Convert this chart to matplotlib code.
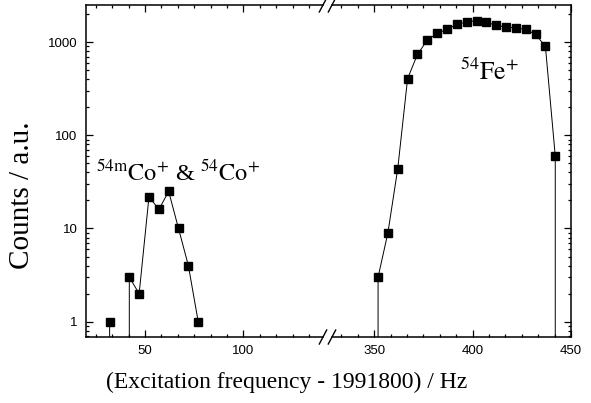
import numpy as np
import matplotlib
matplotlib.use('Agg')
import matplotlib.pyplot as plt
from matplotlib.ticker import MultipleLocator, LogLocator, FixedLocator, FuncFormatter, NullFormatter

plt.rcParams['font.family'] = 'Liberation Sans'
plt.rcParams['mathtext.fontset'] = 'stix'

# Co peaks (left part of the broken axis), zero = no counts
co_freq = [32, 37, 42, 47, 52, 57, 62, 67, 72, 77]
co_counts = [1, 0, 3, 2, 22, 16, 25, 10, 4, 1]

# Fe peak (right part)
fe_freq = [347, 352, 357, 362, 367, 372, 377, 382, 387, 392, 397, 402,
           407, 412, 417, 422, 427, 432, 437, 442, 447]
fe_counts = [0, 3, 9, 44, 406, 737, 1050, 1240, 1370, 1550, 1640, 1700,
             1630, 1510, 1450, 1415, 1370, 1210, 900, 60, 0]

x_left = (20, 140.4)
x_right = (328.6, 450)
y_lim = (0.685, 2500)

fig = plt.figure(figsize=(5.91, 4.03), dpi=100)
W, H = 591.0, 403.0
bot, top = 1 - 337 / H, 1 - 5 / H
ax1 = fig.add_axes([86 / W, bot, (323 - 86) / W, top - bot])
ax2 = fig.add_axes([332 / W, bot, (571 - 332) / W, top - bot])

for ax, xs, ys, xl in [(ax1, co_freq, co_counts, x_left),
                       (ax2, fe_freq, fe_counts, x_right)]:
    ax.plot(xs, ys, color='black', lw=0.7, marker='s', ms=5.7,
            mec='black', mfc='black')
    ax.set_yscale('log')
    ax.set_ylim(*y_lim)
    ax.set_xlim(*xl)
    ax.xaxis.set_minor_locator(MultipleLocator(50 / 6))
    ax.yaxis.set_major_locator(LogLocator(base=10))
    ax.yaxis.set_minor_locator(LogLocator(base=10, subs=np.arange(2, 10)))
    ax.yaxis.set_minor_formatter(NullFormatter())
    ax.tick_params(which='both', direction='in', top=True, labelsize=9.5,
                   width=0.9, pad=6)
    ax.tick_params(which='major', length=5)
    ax.tick_params(which='minor', length=2.5)
    for s in ax.spines.values():
        s.set_linewidth(1.1)

ax1.xaxis.set_major_locator(FixedLocator([50, 100]))
ax2.xaxis.set_major_locator(FixedLocator([350, 400, 450]))
ax1.yaxis.set_major_formatter(FuncFormatter(lambda v, p: '%d' % round(v)))
ax1.spines['right'].set_visible(False)
ax1.tick_params(which='both', right=False)
ax2.spines['left'].set_visible(False)
ax2.tick_params(which='both', left=False, right=True, labelleft=False)

# break marks
dx, dy = 3.7 / W, 7 / H
for xc in [323 / W, 332 / W]:
    for yc in [bot, top]:
        fig.add_artist(plt.Line2D([xc - dx, xc + dx], [yc - dy, yc + dy],
                                  color='black', lw=1.0))

ax1.text(25, 33, r'$^{54\mathrm{m}}\mathrm{Co}^{+}$ & $^{54}\mathrm{Co}^{+}$',
         fontsize=17.5, family='Liberation Serif', ha='left', va='baseline')
ax2.text(393.6, 395, r'$^{54}\mathrm{Fe}^{+}$', fontsize=18.5,
         family='Liberation Serif', ha='left', va='baseline')

fig.text(0.485, 0.052, '(Excitation frequency - 1991800) / Hz',
         fontsize=17, family='Liberation Serif', ha='center', va='center')
fig.text(0.037, 0.516, 'Counts / a.u.', fontsize=21,
         family='Liberation Serif', ha='center', va='center', rotation=90)

fig.savefig('out.png', dpi=100)
